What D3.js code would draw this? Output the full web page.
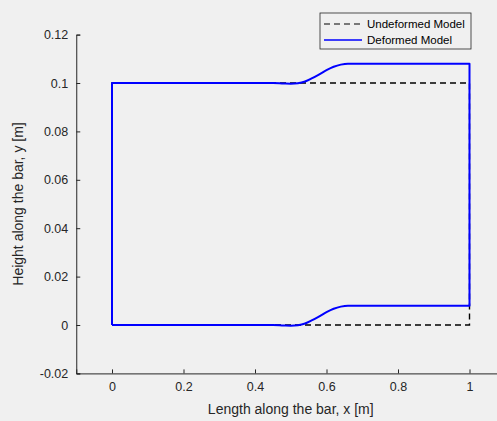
<!DOCTYPE html>
<html>
<head>
<meta charset="utf-8">
<script src="https://cdn.jsdelivr.net/npm/d3@7"></script>
<style>
  body { margin: 0; background: #f0f0f0; }
  svg { display: block; font-family: "Liberation Sans", Arial, sans-serif; }
</style>
</head>
<body>
<div class="chart"></div>
<script>
width = 497;
height = 421;

xTicks = [0, 0.2, 0.4, 0.6, 0.8, 1];
yTicks = [-0.02, 0, 0.02, 0.04, 0.06, 0.08, 0.1, 0.12];

// undeformed bar outline
undeformedX = [0, 0, 1, 1, 0];
undeformedY = [0, 0.1, 0.1, 0, 0];

// deformed bar: top and bottom edges
edgeX = [0, 0.45, 0.48, 0.5, 0.52, 0.54, 0.56, 0.58, 0.6, 0.62, 0.64, 0.66, 0.7, 1];
topY = [0.1, 0.1, 0.0998, 0.0997, 0.0999, 0.1006, 0.102, 0.1036, 0.1053, 0.1067, 0.1076, 0.108, 0.108, 0.108];
bottomY = [0, 0, -0.0002, -0.0003, -0.0001, 0.0006, 0.002, 0.0036, 0.0053, 0.0067, 0.0076, 0.008, 0.008, 0.008];

legendLabels = ["Undeformed Model", "Deformed Model"];

var svg = d3.select(".chart").append("svg")
    .attr("width", width)
    .attr("height", height);

svg.append("rect")
    .attr("width", width)
    .attr("height", height)
    .attr("fill", "#f0f0f0");

var xScale = d3.scaleLinear().domain([-0.1, 1.1]).range([76.25, 505.25]);
var yScale = d3.scaleLinear().domain([-0.02, 0.12]).range([373.4, 34.6]);

// matlab style labels, plain hyphen for negatives
var tickFormat = function(d) { return String(+d.toFixed(4)); };

var xAxis = d3.axisBottom(xScale).tickValues(xTicks).tickSize(-4).tickPadding(9)
    .tickFormat(tickFormat);
var yAxis = d3.axisLeft(yScale).tickValues(yTicks).tickSize(-4).tickPadding(8)
    .tickFormat(tickFormat);

var gx = svg.append("g")
    .attr("transform", "translate(0," + yScale(-0.02) + ")")
    .call(xAxis);
var gy = svg.append("g")
    .attr("transform", "translate(" + xScale(-0.1) + ",0)")
    .call(yAxis);

[gx, gy].forEach(function(g) {
    g.select(".domain").attr("stroke", "#262626").attr("stroke-width", 1);
    g.selectAll(".tick line").attr("stroke", "#262626");
    g.selectAll(".tick text").attr("fill", "#262626").attr("font-size", 12.5);
});

var line = d3.line()
    .x(function(d) { return xScale(d[0]); })
    .y(function(d) { return yScale(d[1]); });

var smoothLine = d3.line()
    .x(function(d) { return xScale(d[0]); })
    .y(function(d) { return yScale(d[1]); })
    .curve(d3.curveMonotoneX);

var undeformed = undeformedX.map(function(x, i) { return [x, undeformedY[i]]; });

svg.append("path")
    .attr("d", line(undeformed))
    .attr("fill", "none")
    .attr("stroke", "#000")
    .attr("stroke-width", 1.4)
    .attr("stroke-dasharray", "6,4");

var topEdge = edgeX.map(function(x, i) { return [x, topY[i]]; });
var bottomEdge = edgeX.map(function(x, i) { return [x, bottomY[i]]; });

// left side, top edge, right side, bottom edge
var deformedPath = line([[0, bottomY[0]], [0, topY[0]]]) +
    smoothLine(topEdge).replace(/^M/, "L") +
    "L" + xScale(1) + "," + yScale(bottomY[bottomY.length - 1]) +
    smoothLine(bottomEdge.slice().reverse()).replace(/^M/, "L");

svg.append("path")
    .attr("d", deformedPath)
    .attr("fill", "none")
    .attr("stroke", "#0000ff")
    .attr("stroke-width", 2)
    .attr("stroke-linejoin", "round");

// axis labels
svg.append("text")
    .attr("x", (xScale(-0.1) + xScale(1.1)) / 2)
    .attr("y", 414)
    .attr("text-anchor", "middle")
    .attr("font-size", 14)
    .attr("fill", "#262626")
    .text("Length along the bar, x [m]");

svg.append("text")
    .attr("transform", "translate(23," + (yScale(-0.02) + yScale(0.12)) / 2 + ") rotate(-90)")
    .attr("text-anchor", "middle")
    .attr("font-size", 14)
    .attr("fill", "#262626")
    .text("Height along the bar, y [m]");

// legend
var legend = svg.append("g").attr("transform", "translate(320,13)");
legend.append("rect")
    .attr("width", 151)
    .attr("height", 36)
    .attr("fill", "none")
    .attr("stroke", "#262626")
    .attr("stroke-width", 0.8);

legendLabels.forEach(function(label, i) {
    var y = 11 + i * 16;
    legend.append("line")
        .attr("x1", 4).attr("x2", 42)
        .attr("y1", y).attr("y2", y)
        .attr("stroke", i === 0 ? "#000" : "#0000ff")
        .attr("stroke-width", i === 0 ? 1.2 : 1.6)
        .attr("stroke-dasharray", i === 0 ? "6,4" : null);
    legend.append("text")
        .attr("x", 47)
        .attr("y", y + 4)
        .attr("font-size", 11.5)
        .attr("fill", "#000")
        .text(label);
});
</script>
</body>
</html>
